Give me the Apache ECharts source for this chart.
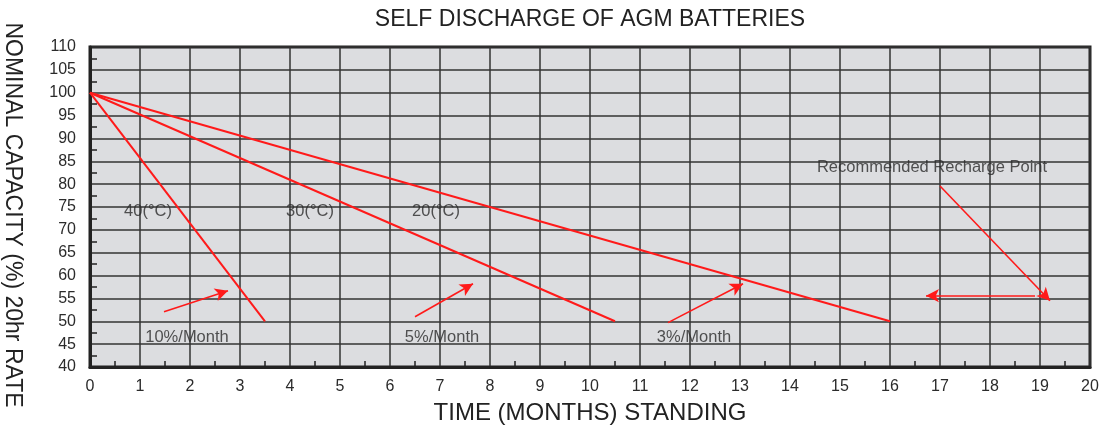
<!DOCTYPE html>
<html>
<head>
<meta charset="utf-8">
<script src="https://cdn.jsdelivr.net/npm/echarts@6/dist/echarts.min.js"></script>
<style>
  html, body { margin: 0; padding: 0; background: #fff; }
  #chart { width: 1103px; height: 428px; }
</style>
</head>
<body>
<div id="chart"></div>
<script>
  // discharge lines (months, capacity %)
  var line40 = [[0, 100], [3.5, 50]];
  var line30 = [[0, 100], [10.5, 50]];
  var line20 = [[0, 100], [16, 50]];

  // annotation texts
  var noteText = ['40(°C)', '30(°C)', '20(°C)', '10%/Month', '5%/Month', '3%/Month', 'Recommended Recharge Point'];
  var noteX = [1.16, 4.4, 6.92, 1.94, 7.04, 12.08, 16.84];
  var noteY = [74.1, 74.1, 74.1, 46.4, 46.4, 46.4, 83.7];

  // arrows: start / end points
  var arrowFrom = [[1.48, 52.1], [6.5, 51.0], [11.56, 49.7], [17.0, 79.6], [18.9, 55.6]];
  var arrowTo = [[2.76, 56.7], [7.66, 58.2], [13.06, 58.2], [19.2, 54.5], [16.72, 55.6]];

  var red = '#ff1a1a';
  var txt = '#2b2b2b';

  var chart = echarts.init(document.getElementById('chart'));

  var notes = [];
  for (var i = 0; i < noteText.length; i++) {
    notes.push({ value: [noteX[i], noteY[i]], name: noteText[i] });
  }
  var arrows = [];
  for (var j = 0; j < arrowFrom.length; j++) {
    arrows.push([{ coord: arrowFrom[j] }, { coord: arrowTo[j] }]);
  }

  function redLine(data) {
    return {
      type: 'line',
      data: data,
      symbol: 'none',
      silent: true,
      lineStyle: { color: red, width: 2 }
    };
  }

  chart.setOption({
    animation: false,
    title: {
      text: 'SELF DISCHARGE OF AGM BATTERIES',
      left: 585,
      textAlign: 'center',
      top: 3,
      textStyle: { color: '#222', fontSize: 23, fontWeight: 'normal', fontFamily: 'Liberation Sans' }
    },
    grid: {
      left: 90, right: 13, top: 47, bottom: 61,
      outerBoundsMode: 'none',
      containLabel: false,
      show: true,
      backgroundColor: '#dcdde0',
      borderColor: '#222',
      borderWidth: 3
    },
    xAxis: {
      type: 'value',
      min: 0, max: 20, interval: 1,
      name: 'TIME (MONTHS) STANDING',
      nameLocation: 'middle',
      nameGap: 34,
      nameTextStyle: { color: '#222', fontSize: 24, fontFamily: 'Liberation Sans' },
      axisLine: { lineStyle: { color: '#222', width: 3 } },
      axisTick: { show: false, inside: true },
      minorTick: { show: true, splitNumber: 2, length: 6, lineStyle: { color: '#222', width: 1.5 } },
      axisLabel: { color: txt, fontSize: 16, margin: 12, fontFamily: 'Liberation Sans' },
      splitLine: { lineStyle: { color: '#333', width: 1.5 } }
    },
    yAxis: {
      type: 'value',
      min: 40, max: 110, interval: 5,
      name: 'NOMINAL CAPACITY (%) 20hr RATE',
      nameLocation: 'middle',
      nameRotate: -90,
      nameGap: 66,
      nameTextStyle: { color: '#222', fontSize: 23, fontFamily: 'Liberation Sans', padding: [0, 0, 0, 16] },
      axisLine: { show: true, lineStyle: { color: '#222', width: 3 } },
      axisTick: { show: false, inside: true },
      minorTick: { show: true, splitNumber: 2, length: 7, lineStyle: { color: '#222', width: 1.5 } },
      axisLabel: { color: txt, fontSize: 16, margin: 14, fontFamily: 'Liberation Sans' },
      splitLine: { lineStyle: { color: '#333', width: 1.5 } }
    },
    series: [
      redLine(line40),
      redLine(line30),
      redLine(line20),
      {
        type: 'scatter',
        data: notes,
        symbolSize: 0,
        silent: true,
        label: {
          show: true,
          position: 'inside',
          formatter: '{b}',
          color: txt,
          fontSize: 16.5,
          fontFamily: 'Liberation Sans'
        },
        markLine: {
          silent: true,
          symbol: ['none', 'arrow'],
          symbolSize: [10, 13],
          label: { show: false },
          lineStyle: { color: red, width: 1.6, type: 'solid' },
          data: arrows
        }
      }
    ]
  });
</script>
</body>
</html>
